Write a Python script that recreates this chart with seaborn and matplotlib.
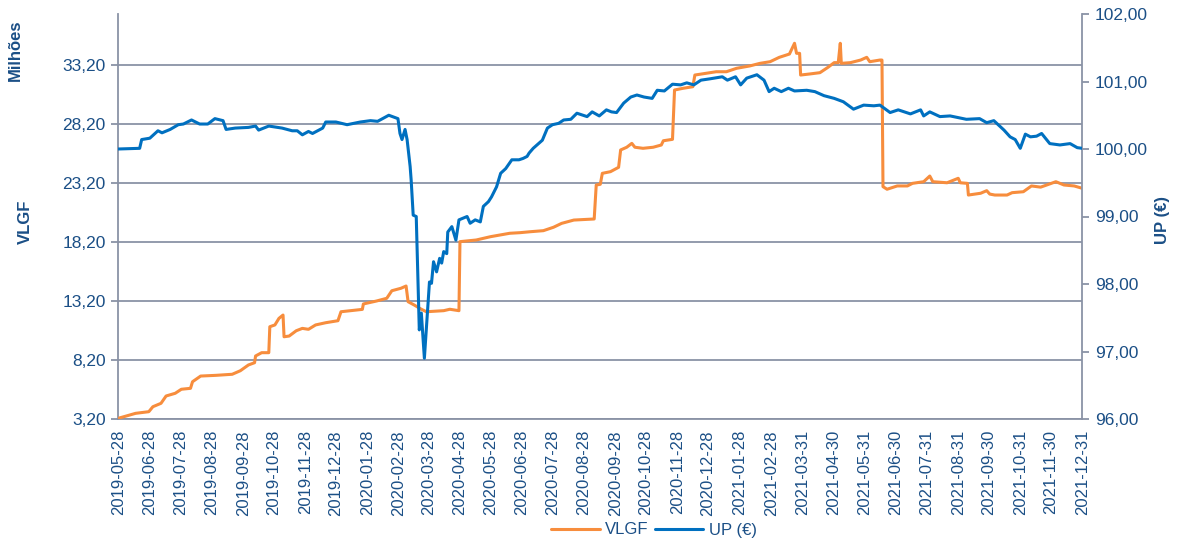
import numpy as np
import pandas as pd
import matplotlib
matplotlib.use("Agg")
import matplotlib.pyplot as plt
import seaborn as sns
from matplotlib.ticker import FixedLocator, FuncFormatter
from matplotlib.lines import Line2D

# ---------------- data ----------------
VLGF_DATES = [
    "2019-05-28", "2019-06-14", "2019-06-27", "2019-07-01", "2019-07-09", "2019-07-14",
    "2019-07-23", "2019-07-29", "2019-08-07", "2019-08-09", "2019-08-17", "2019-09-01",
    "2019-09-17", "2019-09-25", "2019-10-03", "2019-10-09", "2019-10-10", "2019-10-16",
    "2019-10-23", "2019-10-24", "2019-10-29", "2019-11-02", "2019-11-06", "2019-11-07",
    "2019-11-12", "2019-11-19", "2019-11-25", "2019-12-01", "2019-12-08", "2019-12-18",
    "2019-12-30", "2020-01-02", "2020-01-23", "2020-01-24", "2020-02-06", "2020-02-16",
    "2020-02-21", "2020-03-01", "2020-03-06", "2020-03-08", "2020-03-14", "2020-03-21",
    "2020-03-26", "2020-04-12", "2020-04-18", "2020-04-27", "2020-04-28", "2020-05-14",
    "2020-05-28", "2020-06-16", "2020-06-26", "2020-07-06", "2020-07-19", "2020-07-29",
    "2020-08-06", "2020-08-18", "2020-09-07", "2020-09-09", "2020-09-13", "2020-09-15",
    "2020-09-23", "2020-10-01", "2020-10-03", "2020-10-09", "2020-10-14", "2020-10-17",
    "2020-10-25", "2020-11-04", "2020-11-12", "2020-11-14", "2020-11-23", "2020-11-25",
    "2020-12-03", "2020-12-13", "2020-12-15", "2020-12-26", "2021-01-05", "2021-01-15",
    "2021-01-25", "2021-02-07", "2021-02-17", "2021-02-27", "2021-03-08", "2021-03-18",
    "2021-03-23", "2021-03-25", "2021-03-28", "2021-03-29", "2021-04-07", "2021-04-17",
    "2021-04-25", "2021-05-01", "2021-05-05", "2021-05-07", "2021-05-08", "2021-05-17",
    "2021-05-27", "2021-06-02", "2021-06-05", "2021-06-15", "2021-06-17", "2021-06-18",
    "2021-06-22", "2021-07-02", "2021-07-12", "2021-07-17", "2021-07-28", "2021-08-03",
    "2021-08-06", "2021-08-20", "2021-08-31", "2021-09-02", "2021-09-09", "2021-09-10",
    "2021-09-22", "2021-09-28", "2021-10-01", "2021-10-06", "2021-10-18", "2021-10-23",
    "2021-11-03", "2021-11-11", "2021-11-20", "2021-11-26", "2021-12-05", "2021-12-13",
    "2021-12-23", "2021-12-31",
]
VLGF_VALUES = [
    3.26, 3.68, 3.82, 4.24, 4.53, 5.15,
    5.38, 5.72, 5.80, 6.36, 6.84, 6.90,
    6.99, 7.29, 7.78, 7.97, 8.54, 8.82,
    8.82, 11.02, 11.17, 11.73, 12.01, 10.17,
    10.23, 10.68, 10.88, 10.80, 11.17, 11.36,
    11.53, 12.29, 12.49, 12.95, 13.20, 13.43,
    14.07, 14.28, 14.47, 13.14, 12.86, 12.50,
    12.29, 12.38, 12.50, 12.38, 18.23, 18.37,
    18.65, 18.94, 18.99, 19.07, 19.16, 19.45,
    19.78, 20.06, 20.15, 23.03, 23.09, 24.02,
    24.16, 24.53, 26.00, 26.23, 26.56, 26.23,
    26.14, 26.23, 26.42, 26.78, 26.90, 31.08,
    31.22, 31.36, 32.35, 32.50, 32.63, 32.63,
    32.92, 33.12, 33.34, 33.48, 33.85, 34.13,
    35.04, 34.19, 34.19, 32.35, 32.44, 32.55,
    33.01, 33.40, 33.40, 35.04, 33.34, 33.40,
    33.62, 33.85, 33.48, 33.62, 33.62, 22.89,
    22.67, 22.95, 22.95, 23.17, 23.31, 23.79,
    23.31, 23.22, 23.60, 23.22, 23.17, 22.18,
    22.33, 22.55, 22.26, 22.18, 22.18, 22.38,
    22.46, 22.95, 22.85, 23.03, 23.31, 23.03,
    22.95, 22.75,
]

UP_DATES = [
    "2019-05-28", "2019-06-18", "2019-06-20", "2019-06-28", "2019-07-06", "2019-07-10",
    "2019-07-18", "2019-07-26", "2019-07-31", "2019-08-08", "2019-08-16", "2019-08-24",
    "2019-08-31", "2019-09-08", "2019-09-11", "2019-09-20", "2019-10-03", "2019-10-10",
    "2019-10-13", "2019-10-23", "2019-11-05", "2019-11-15", "2019-11-20", "2019-11-25",
    "2019-12-01", "2019-12-05", "2019-12-15", "2019-12-18", "2019-12-28", "2020-01-08",
    "2020-01-21", "2020-01-31", "2020-02-07", "2020-02-18", "2020-02-27", "2020-02-29",
    "2020-03-02", "2020-03-05", "2020-03-07", "2020-03-10", "2020-03-11", "2020-03-13",
    "2020-03-16", "2020-03-17", "2020-03-19", "2020-03-21", "2020-03-24", "2020-03-27",
    "2020-03-29", "2020-03-31", "2020-04-02", "2020-04-05", "2020-04-08", "2020-04-10",
    "2020-04-12", "2020-04-15", "2020-04-16", "2020-04-20", "2020-04-24", "2020-04-27",
    "2020-05-05", "2020-05-08", "2020-05-13", "2020-05-18", "2020-05-21", "2020-05-26",
    "2020-05-29", "2020-06-03", "2020-06-07", "2020-06-12", "2020-06-18", "2020-06-25",
    "2020-06-29", "2020-07-03", "2020-07-05", "2020-07-09", "2020-07-18", "2020-07-23",
    "2020-07-28", "2020-08-03", "2020-08-08", "2020-08-15", "2020-08-21", "2020-08-31",
    "2020-09-05", "2020-09-12", "2020-09-19", "2020-09-24", "2020-09-29", "2020-10-06",
    "2020-10-13", "2020-10-19", "2020-10-26", "2020-11-03", "2020-11-08", "2020-11-15",
    "2020-11-23", "2020-12-01", "2020-12-07", "2020-12-14", "2020-12-21", "2020-12-30",
    "2021-01-11", "2021-01-16", "2021-01-24", "2021-01-29", "2021-02-04", "2021-02-14",
    "2021-02-21", "2021-02-26", "2021-03-03", "2021-03-10", "2021-03-17", "2021-03-23",
    "2021-04-04", "2021-04-12", "2021-04-21", "2021-05-01", "2021-05-10", "2021-05-20",
    "2021-05-30", "2021-06-09", "2021-06-15", "2021-06-25", "2021-07-03", "2021-07-15",
    "2021-07-25", "2021-07-28", "2021-08-03", "2021-08-13", "2021-08-23", "2021-09-08",
    "2021-09-21", "2021-09-28", "2021-10-05", "2021-10-15", "2021-10-21", "2021-10-26",
    "2021-10-31", "2021-11-05", "2021-11-10", "2021-11-16", "2021-11-21", "2021-11-29",
    "2021-12-09", "2021-12-19", "2021-12-26", "2021-12-31",
]
UP_VALUES = [
    100.00, 100.01, 100.14, 100.16, 100.27, 100.24,
    100.29, 100.36, 100.37, 100.43, 100.37, 100.37,
    100.45, 100.42, 100.29, 100.31, 100.32, 100.34,
    100.28, 100.34, 100.31, 100.27, 100.27, 100.21,
    100.26, 100.23, 100.31, 100.40, 100.40, 100.36,
    100.40, 100.42, 100.41, 100.50, 100.45, 100.23,
    100.14, 100.29, 100.14, 99.74, 99.54, 99.02,
    99.00, 98.45, 97.32, 97.57, 96.90, 97.57,
    98.03, 98.01, 98.33, 98.18, 98.38, 98.31,
    98.48, 98.45, 98.77, 98.85, 98.65, 98.95,
    99.00, 98.90, 98.95, 98.92, 99.15, 99.22,
    99.29, 99.44, 99.64, 99.71, 99.84, 99.84,
    99.86, 99.89, 99.94, 100.01, 100.13, 100.31,
    100.36, 100.38, 100.43, 100.44, 100.53, 100.48,
    100.55, 100.49, 100.58, 100.55, 100.54, 100.68,
    100.77, 100.80, 100.77, 100.75, 100.87, 100.86,
    100.96, 100.95, 100.98, 100.95, 101.02, 101.04,
    101.07, 101.02, 101.07, 100.95, 101.05, 101.10,
    101.02, 100.85, 100.90, 100.85, 100.90, 100.86,
    100.87, 100.85, 100.79, 100.75, 100.70, 100.59,
    100.65, 100.64, 100.65, 100.54, 100.58, 100.52,
    100.58, 100.49, 100.55, 100.48, 100.49, 100.44,
    100.45, 100.39, 100.42, 100.28, 100.18, 100.14,
    100.01, 100.22, 100.18, 100.19, 100.23, 100.08,
    100.06, 100.08, 100.02, 100.01,
]

X_TICKS = [
    "2019-05-28", "2019-06-28", "2019-07-28", "2019-08-28", "2019-09-28", "2019-10-28",
    "2019-11-28", "2019-12-28", "2020-01-28", "2020-02-28", "2020-03-28", "2020-04-28",
    "2020-05-28", "2020-06-28", "2020-07-28", "2020-08-28", "2020-09-28", "2020-10-28",
    "2020-11-28", "2020-12-28", "2021-01-28", "2021-02-28", "2021-03-31", "2021-04-30",
    "2021-05-31", "2021-06-30", "2021-07-31", "2021-08-31", "2021-09-30", "2021-10-31",
    "2021-11-30", "2021-12-31",
]
LEFT_TICKS = [3.2, 8.2, 13.2, 18.2, 23.2, 28.2, 33.2]
RIGHT_TICKS = [96, 97, 98, 99, 100, 101, 102]

# ---------------- style ----------------
ORANGE = "#F78D3D"
BLUE = "#0070C0"
TEXT = "#1B4F86"
GRID = "#8A93A6"

sns.set_style("white")
plt.rcParams["font.family"] = ["Liberation Sans", "DejaVu Sans"]

fig = plt.figure(figsize=(11.77, 5.42), dpi=100)
W, H = 1177, 542
x0, x1, y0, y1 = 118.3, 1082.3, 14, 419
ax = fig.add_axes([x0 / W, 1 - y1 / H, (x1 - x0) / W, (y1 - y0) / H])
ax2 = ax.twinx()

df_v = pd.DataFrame({"date": pd.to_datetime(VLGF_DATES), "value": VLGF_VALUES})
df_u = pd.DataFrame({"date": pd.to_datetime(UP_DATES), "value": UP_VALUES})

sns.lineplot(data=df_v, x="date", y="value", ax=ax, color=ORANGE, linewidth=2.2,
             legend=False, zorder=3)
sns.lineplot(data=df_u, x="date", y="value", ax=ax2, color=BLUE, linewidth=2.2,
             legend=False, zorder=3)

xt = pd.to_datetime(X_TICKS)
ax.set_xlim(xt[0], xt[-1])
ax.set_xticks(xt)
ax.set_xticklabels([d.strftime("%Y-%m-%d") for d in xt], rotation=90)

ax.set_ylim(3.2, 3.2 + 405 / 11.8)
ax.yaxis.set_major_locator(FixedLocator(LEFT_TICKS))
ax.yaxis.set_major_formatter(FuncFormatter(lambda v, p: f"{v:.2f}".replace(".", ",")))
ax2.set_ylim(96, 102)
ax2.yaxis.set_major_locator(FixedLocator(RIGHT_TICKS))
ax2.yaxis.set_major_formatter(FuncFormatter(lambda v, p: f"{v:.2f}".replace(".", ",")))

ax.grid(axis="y", color=GRID, linewidth=1.3)
ax.grid(axis="x", visible=False)
ax.set_axisbelow(True)

for a in (ax, ax2):
    a.set_xlabel("")
    a.set_ylabel("")
    for s in a.spines.values():
        s.set_color(GRID)
        s.set_linewidth(1.3)
    a.spines["top"].set_visible(False)

ax.spines["right"].set_visible(False)
ax2.spines["left"].set_visible(False)
ax2.spines["bottom"].set_visible(False)

ax.tick_params(axis="x", direction="out", length=5, width=1.3, color=GRID,
               labelsize=12, labelcolor=TEXT, pad=3)
ax.tick_params(axis="y", direction="out", length=5, width=1.3, color=GRID,
               labelsize=12.5, labelcolor=TEXT, pad=4, left=True)
ax2.tick_params(axis="y", direction="out", length=5, width=1.3, color=GRID,
                labelsize=12.5, labelcolor=TEXT, pad=4, right=True)

fig.text(15 / W, 1 - 50 / H, "Milhões", rotation=90, ha="center", va="center",
         fontsize=12, fontweight="bold", color=TEXT)
fig.text(25 / W, 1 - 222 / H, "VLGF", rotation=90, ha="center", va="center",
         fontsize=12, fontweight="bold", color=TEXT)
fig.text(1163 / W, 1 - 220 / H, "UP (€)", rotation=90, ha="center", va="center",
         fontsize=12, fontweight="bold", color=TEXT)

handles = [Line2D([], [], color=ORANGE, linewidth=2.2),
           Line2D([], [], color=BLUE, linewidth=2.2)]
leg = fig.legend(handles, ["VLGF", "UP (€)"], loc="center",
                 bbox_to_anchor=(654 / W, 1 - 530 / H), ncol=2, frameon=False,
                 fontsize=12, handlelength=2.9, handletextpad=0.35,
                 columnspacing=0.35, borderpad=0)
for t in leg.get_texts():
    t.set_color(TEXT)

fig.savefig("out.png", dpi=100)
